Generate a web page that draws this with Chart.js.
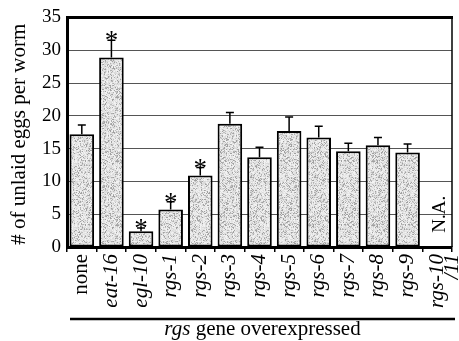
<!DOCTYPE html>
<html>
<head>
<meta charset="utf-8">
<script src="https://cdn.jsdelivr.net/npm/chart.js@4/dist/chart.umd.min.js"></script>
<style>
  html,body{margin:0;padding:0;background:#fff}
  #wrap{width:459px;height:341px}
</style>
</head>
<body>
<div id="wrap"><canvas id="chart" width="459" height="341"></canvas></div>
<script>
// data
const categories = ['none','eat-16','egl-10','rgs-1','rgs-2','rgs-3','rgs-4','rgs-5','rgs-6','rgs-7','rgs-8','rgs-9',['rgs-10','/11']]
const eggs   = [17.2, 28.9, 2.4, 5.7, 10.9, 18.8, 13.7, 17.7, 16.7, 14.6, 15.5, 14.4, null]
const errors = [1.4, 2.6, 0.5, 1.2, 1.2, 1.7, 1.5, 2.1, 1.7, 1.2, 1.2, 1.3, null]
const starred = [false, true, true, true, true, false, false, false, false, false, false, false, false]
const yMax = 35, yStep = 5
const FONT = '"Liberation Serif", "DejaVu Serif", serif'

// stippled grey fill like the print (fixed hash, not data)
function stipple(){
  const c = document.createElement('canvas')
  c.width = 64; c.height = 64
  const g = c.getContext('2d')
  const img = g.createImageData(64,64)
  for(let i=0;i<64*64;i++){
    let h = Math.imul(i ^ 0x9e3779b9, 0x85ebca6b)
    h ^= h >>> 13
    h = Math.imul(h, 0xc2b2ae35)
    h ^= h >>> 16
    const r = (h >>> 0) % 100
    const v = r < 25 ? 160 + (r%3)*15 : 218 + (r%4)*8
    img.data[i*4] = v; img.data[i*4+1] = v; img.data[i*4+2] = v; img.data[i*4+3] = 255
  }
  g.putImageData(img,0,0)
  return g.createPattern(c,'repeat')
}

const extras = {
  id:'extras',
  afterDatasetsDraw(chart){
    const ctx = chart.ctx
    const x = chart.scales.x, y = chart.scales.y
    const a = chart.chartArea
    ctx.save()
    // error bars (upper only)
    ctx.strokeStyle = '#000'
    ctx.lineWidth = 1.5
    eggs.forEach((v,i)=>{
      if(v==null) return
      const cx = x.getPixelForValue(i)
      const y0 = y.getPixelForValue(v)
      const y1 = y.getPixelForValue(v+errors[i])
      ctx.beginPath()
      ctx.moveTo(cx,y0); ctx.lineTo(cx,y1)
      ctx.moveTo(cx-4,y1); ctx.lineTo(cx+4,y1)
      ctx.stroke()
      if(starred[i]){
        ctx.fillStyle = '#000'
        ctx.font = '27px '+FONT
        ctx.textAlign = 'center'
        ctx.textBaseline = 'alphabetic'
        ctx.fillText('*', cx, y1+9)
      }
    })
    // N.A. for the last column
    eggs.forEach((v,i)=>{
      if(v!=null) return
      const cx = x.getPixelForValue(i)
      ctx.save()
      ctx.translate(cx+8, y.getPixelForValue(5))
      ctx.rotate(-Math.PI/2)
      ctx.fillStyle = '#000'
      ctx.font = '19px '+FONT
      ctx.textAlign = 'center'
      ctx.textBaseline = 'alphabetic'
      ctx.fillText('N.A.', 0, 0)
      ctx.restore()
    })
    // frame: thick top, thin right
    ctx.strokeStyle = '#000'
    ctx.lineWidth = 3
    ctx.beginPath()
    ctx.moveTo(a.left, a.top); ctx.lineTo(a.right+1, a.top)
    ctx.stroke()
    ctx.lineWidth = 1.5
    ctx.beginPath()
    ctx.moveTo(a.right, a.top); ctx.lineTo(a.right, a.bottom)
    ctx.stroke()
    // y title
    ctx.save()
    ctx.translate(19, (a.top+a.bottom)/2 + 2)
    ctx.rotate(-Math.PI/2)
    ctx.fillStyle = '#000'
    ctx.font = '21px '+FONT
    ctx.textAlign = 'center'
    ctx.textBaseline = 'middle'
    ctx.fillText('# of unlaid eggs per worm', 0, 0)
    ctx.restore()
    // x title with rule above
    ctx.lineWidth = 2.5
    ctx.beginPath()
    ctx.moveTo(70, 319); ctx.lineTo(455, 319)
    ctx.stroke()
    ctx.fillStyle = '#000'
    ctx.textBaseline = 'alphabetic'
    ctx.textAlign = 'left'
    const t1 = 'rgs', t2 = ' gene overexpressed'
    ctx.font = 'italic 21px '+FONT
    const w1 = ctx.measureText(t1).width
    ctx.font = '21px '+FONT
    const w2 = ctx.measureText(t2).width
    const sx = (70+455)/2 - (w1+w2)/2
    ctx.font = 'italic 21px '+FONT
    ctx.fillText(t1, sx, 335)
    ctx.font = '21px '+FONT
    ctx.fillText(t2, sx+w1, 335)
    ctx.restore()
  }
}

new Chart(document.getElementById('chart'), {
  type:'bar',
  data:{
    labels:categories,
    datasets:[{
      data:eggs,
      backgroundColor:stipple(),
      borderColor:'#000',
      borderWidth:2,
      borderSkipped:false,
      barPercentage:0.83,
      categoryPercentage:1
    }]
  },
  options:{
    responsive:false,
    animation:false,
    devicePixelRatio:1,
    layout:{padding:{top:16,right:7,left:0,bottom:0}},
    plugins:{legend:{display:false},tooltip:{enabled:false}},
    scales:{
      x:{
        afterFit(s){ s.height = 94; s.paddingLeft = 0; s.paddingRight = 0 },
        grid:{
          offset:true,
          drawOnChartArea:false,
          drawTicks:true,
          tickLength:5,
          color:'#000',
          lineWidth:1.5
        },
        border:{display:true,color:'#000',width:3},
        ticks:{
          minRotation:90,
          maxRotation:90,
          autoSkip:false,
          padding:2,
          color:'#000',
          font:(c)=>({family:FONT,size:21,style:c.index===0?'normal':'italic',lineHeight:0.75})
        }
      },
      y:{
        min:0,
        max:yMax,
        afterFit(s){ s.width = 67 },
        ticks:{
          stepSize:yStep,
          padding:6,
          color:'#000',
          font:{family:FONT,size:19}
        },
        grid:{
          drawTicks:false,
          color:(c)=>c.tick && c.tick.value===yMax ? '#000' : '#555',
          lineWidth:(c)=>c.tick && c.tick.value===yMax ? 3 : 1
        },
        border:{display:true,color:'#000',width:3}
      }
    }
  },
  plugins:[extras]
})
</script>
</body>
</html>
